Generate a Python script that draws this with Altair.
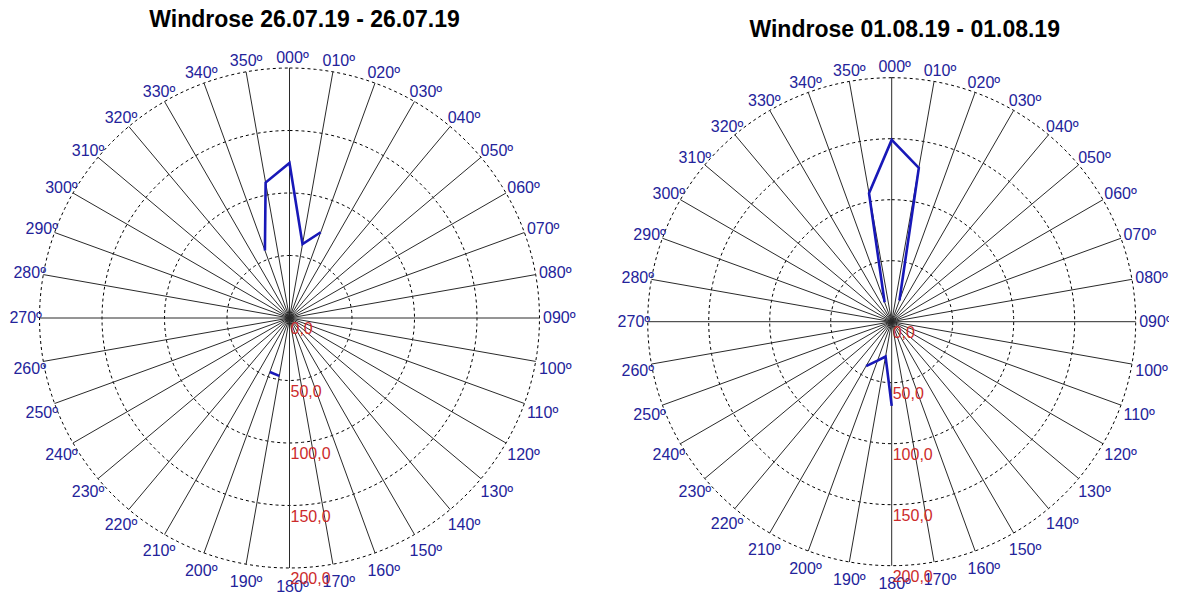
import math
import altair as alt
import pandas as pd

# ---------------- data ----------------
directions = list(range(0, 360, 10))
dir_labels = [f"{d:03d}º" for d in directions]
ring_values = [50, 100, 150, 200]
radial_values = [0, 50, 100, 150, 200]
radial_labels = ["0,0", "50,0", "100,0", "150,0", "200,0"]

left_title = "Windrose 26.07.19 - 26.07.19"
left_dirs = [340, 350, 0, 10, 20, 190, 200]
left_speeds = [57.5, 110, 124, 60, 73, 47, 46]
left_segments = [1, 1, 1, 1, 1, 2, 2]

right_title = "Windrose 01.08.19 - 01.08.19"
right_dirs = [340, 350, 0, 10, 20, 210, 200, 190, 180]
right_speeds = [17, 107, 149, 128, 18.5, 42, 34, 29, 69]
right_segments = [1, 1, 1, 1, 1, 2, 2, 2, 2]

FONT = "Liberation Sans"
LABEL_BLUE = "#23239a"
RED = "#cc2b2b"
LINE_BLUE = "#1818b8"
RMAX = 200


def polar(v, d):
    t = math.radians(d)
    return v * math.sin(t), v * math.cos(t)


def panel(title, dirs, speeds, segs, r_px, cx_px, cy_px, W, H, title_dx_px, title_base_px):
    k = RMAX / r_px  # data units per pixel
    xs = alt.Scale(domain=[-cx_px * k, (W - cx_px) * k], nice=False, zero=False)
    ys = alt.Scale(domain=[-(H - cy_px) * k, cy_px * k], nice=False, zero=False)

    # rings
    rows = []
    for r in ring_values:
        for a in range(0, 362, 2):
            x, y = polar(r, a)
            rows.append({"ring": r, "a": a, "x": x, "y": y})
    rings = alt.Chart(pd.DataFrame(rows)).mark_line(
        color="black", strokeWidth=1, strokeDash=[3, 3]
    ).encode(
        x=alt.X("x:Q", scale=xs, axis=None),
        y=alt.Y("y:Q", scale=ys, axis=None),
        detail="ring:N",
        order="a:Q",
    )

    # spokes
    sp = []
    for d in directions:
        x, y = polar(RMAX, d)
        sp.append({"x0": 0.0, "y0": 0.0, "x1": x, "y1": y})
    spokes = alt.Chart(pd.DataFrame(sp)).mark_rule(color="#2a2a2a", strokeWidth=1).encode(
        x=alt.X("x0:Q", scale=xs, axis=None),
        y=alt.Y("y0:Q", scale=ys, axis=None),
        x2="x1:Q",
        y2="y1:Q",
    )

    # data line
    ln = []
    for i, (d, v, s) in enumerate(zip(dirs, speeds, segs)):
        x, y = polar(v, d)
        ln.append({"i": i, "seg": s, "dir": d, "speed": v, "x": x, "y": y})
    line = alt.Chart(pd.DataFrame(ln)).mark_line(
        color=LINE_BLUE, strokeWidth=2.6, strokeJoin="miter"
    ).encode(
        x=alt.X("x:Q", scale=xs, axis=None),
        y=alt.Y("y:Q", scale=ys, axis=None),
        detail="seg:N",
        order="i:Q",
    )

    # direction labels
    lb = []
    gap, half_w, half_h = 3.5, 13.3, 7.0
    for d, t in zip(directions, dir_labels):
        th = math.radians(d)
        s, c = math.sin(th), math.cos(th)
        cxd = r_px * s + s * (gap + half_w)
        left = cxd - half_w
        extra = (5 + 3 * abs(c)) if c < -0.05 else 0.0
        cyu = r_px * c + c * (gap + half_h) - extra
        lb.append({"label": t, "x": left * k, "y": cyu * k})
    labels = alt.Chart(pd.DataFrame(lb)).mark_text(
        align="left", baseline="middle", font=FONT, fontSize=16, color=LABEL_BLUE, clip=True
    ).encode(
        x=alt.X("x:Q", scale=xs, axis=None),
        y=alt.Y("y:Q", scale=ys, axis=None),
        text="label:N",
    )

    # radial labels
    rl = pd.DataFrame({
        "label": radial_labels,
        "x": [1 * k] * len(radial_values),
        "y": [-(v + 3 * k) for v in radial_values],
    })
    rlabels = alt.Chart(rl).mark_text(
        align="left", baseline="top", font=FONT, fontSize=16, color=RED, clip=True
    ).encode(
        x=alt.X("x:Q", scale=xs, axis=None),
        y=alt.Y("y:Q", scale=ys, axis=None),
        text="label:N",
    )

    # title
    tt = pd.DataFrame({"t": [title], "x": [title_dx_px * k], "y": [(cy_px - title_base_px) * k]})
    ttl = alt.Chart(tt).mark_text(
        align="center", baseline="alphabetic", font=FONT, fontSize=23, fontWeight="bold",
        color="black"
    ).encode(
        x=alt.X("x:Q", scale=xs, axis=None),
        y=alt.Y("y:Q", scale=ys, axis=None),
        text="t:N",
    )

    return alt.layer(rings, spokes, line, labels, rlabels, ttl).properties(width=W, height=H)


H = 588
left_chart = panel(left_title, left_dirs, left_speeds, left_segments,
                   r_px=250, cx_px=281.5, cy_px=310, W=580, H=H,
                   title_dx_px=15, title_base_px=19)
right_chart = panel(right_title, right_dirs, right_speeds, right_segments,
                    r_px=244, cx_px=303.7, cy_px=313.7, W=581, H=H,
                    title_dx_px=13, title_base_px=29)

chart = alt.hconcat(left_chart, right_chart, spacing=0).properties(
    padding=0
).configure_view(stroke=None)

chart.save("out.html", embed_options={"renderer": "svg", "actions": False})
